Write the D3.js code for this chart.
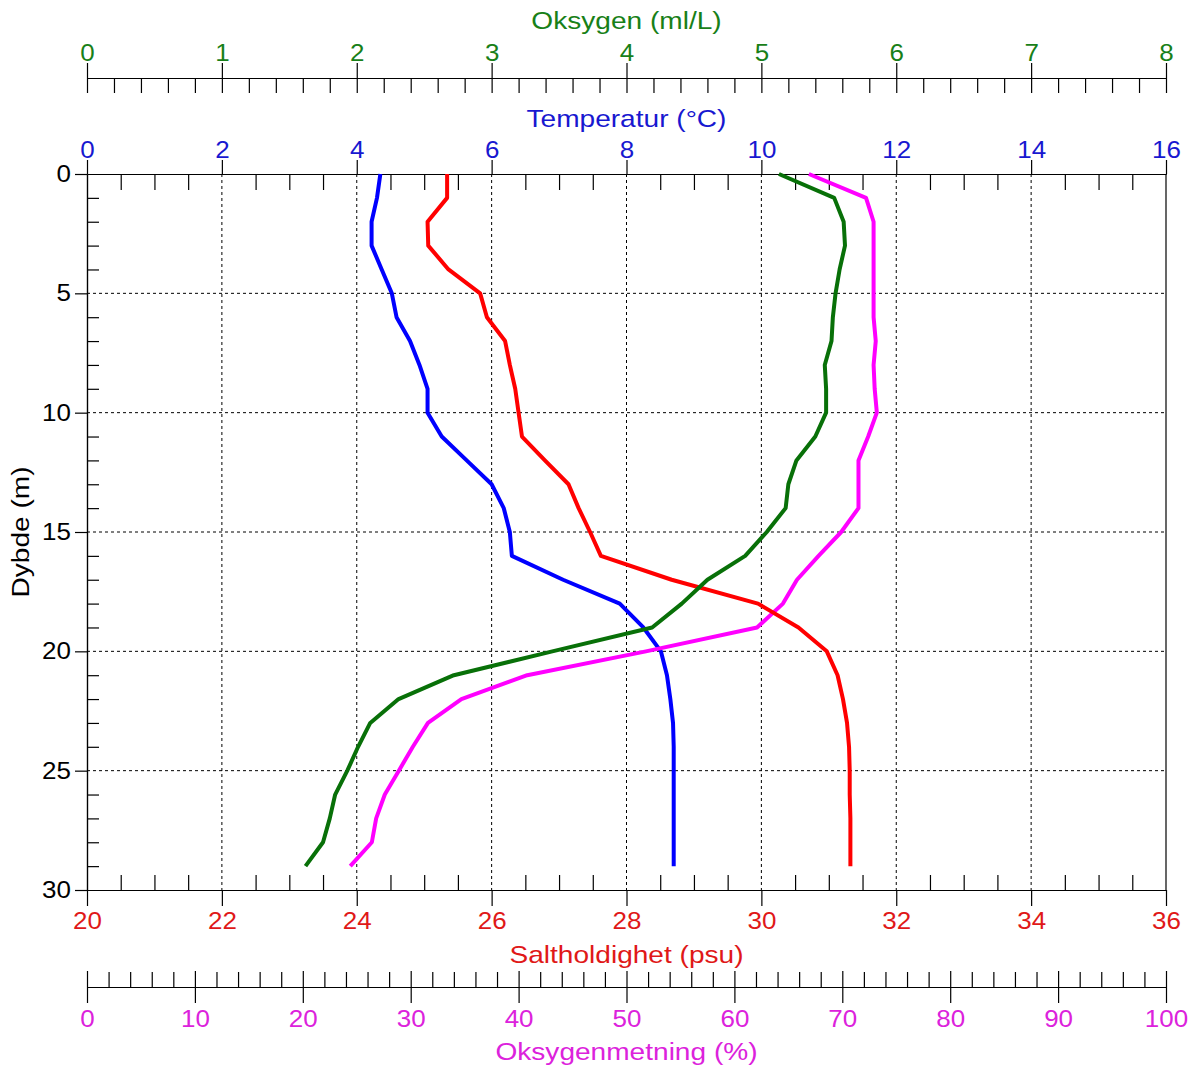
<!DOCTYPE html>
<html>
<head>
<meta charset="utf-8">
<script src="https://cdn.jsdelivr.net/npm/d3@7"></script>
<style>
  body { margin: 0; background: #fff; }
</style>
</head>
<body>
<div id="chart"></div>
<script>
// depth profile, one reading per metre
const depth = [0, 1, 2, 3, 4, 5, 6, 7, 8, 9, 10, 11, 12, 13, 14, 15, 16, 17, 18, 19, 20, 21, 22, 23, 24, 25, 26, 27, 28, 29];
const temperature = [4.35, 4.30, 4.22, 4.22, 4.37, 4.52, 4.59, 4.79, 4.93, 5.05, 5.05, 5.26, 5.63, 6.00, 6.18, 6.27, 6.30, 7.06, 7.90, 8.25, 8.51, 8.60, 8.65, 8.69, 8.70, 8.70, 8.70, 8.70, 8.70, 8.70];
const salinity = [25.34, 25.34, 25.05, 25.06, 25.36, 25.83, 25.93, 26.20, 26.27, 26.35, 26.40, 26.45, 26.79, 27.14, 27.29, 27.46, 27.62, 28.67, 29.95, 30.55, 30.97, 31.13, 31.21, 31.27, 31.30, 31.31, 31.31, 31.32, 31.32, 31.32];
const oxygen = [5.13, 5.54, 5.61, 5.62, 5.58, 5.55, 5.53, 5.52, 5.47, 5.48, 5.48, 5.40, 5.26, 5.20, 5.18, 5.04, 4.88, 4.60, 4.41, 4.19, 3.45, 2.72, 2.31, 2.10, 2.01, 1.93, 1.84, 1.80, 1.75, 1.62];
const saturation = [66.9, 72.2, 72.9, 72.9, 72.9, 72.9, 72.9, 73.1, 72.9, 73.0, 73.2, 72.4, 71.5, 71.5, 71.5, 69.9, 67.8, 65.8, 64.5, 62.1, 51.8, 40.8, 34.7, 31.6, 30.2, 28.9, 27.6, 26.8, 26.4, 24.4];

// tick labels
const tempTicks = [0, 2, 4, 6, 8, 10, 12, 14, 16];
const salTicks = [20, 22, 24, 26, 28, 30, 32, 34, 36];
const oxyTicks = [0, 1, 2, 3, 4, 5, 6, 7, 8];
const satTicks = [0, 10, 20, 30, 40, 50, 60, 70, 80, 90, 100];
const depthTicks = [0, 5, 10, 15, 20, 25, 30];

const width = 1197, height = 1072;
const margin = { top: 174, right: 31, bottom: 182, left: 87 };
const x0 = margin.left, x1 = width - margin.right;
const y0 = margin.top, y1 = height - margin.bottom;

const fontFam = '"Liberation Sans", Arial, sans-serif';
const colors = {
    temp: "#0000ff", tempText: "#1818d0",
    sal: "#ff0000", salText: "#e01818",
    oxy: "#087008", oxyText: "#188018",
    sat: "#ff00ff", satText: "#dc22dc"
};

var xT = d3.scaleLinear().domain([0, 16]).range([x0, x1]);
var xS = d3.scaleLinear().domain([20, 36]).range([x0, x1]);
var xO = d3.scaleLinear().domain([0, 8]).range([x0, x1]);
var xP = d3.scaleLinear().domain([0, 100]).range([x0, x1]);
var y = d3.scaleLinear().domain([0, 30]).range([y0, y1]);

var svg = d3.select("#chart").append("svg")
    .attr("width", width)
    .attr("height", height);

// minor positions between the labelled ticks
function minors(domain, step, skip) {
    return d3.range(domain[0], domain[1] + step / 2, step)
        .filter(v => skip.indexOf(+v.toFixed(4)) < 0);
}

function drawAxis(axis, transform, color) {
    var g = svg.append("g").attr("transform", transform).call(axis);
    g.select(".domain").attr("stroke", "#000").attr("stroke-width", 1.2);
    g.selectAll(".tick line").attr("stroke", "#000").attr("stroke-width", 1.2);
    g.selectAll(".tick text")
        .attr("fill", color)
        .attr("font-family", fontFam)
        .attr("font-size", 23)
        .attr("transform", "scale(1.13,1)");
    return g;
}

// grid
var grid = svg.append("g")
    .attr("stroke", "#000")
    .attr("stroke-width", 1)
    .attr("stroke-dasharray", "3,3");
grid.selectAll(".gx")
    .data(tempTicks.slice(1, -1))
    .enter().append("line")
    .attr("x1", d => xT(d)).attr("x2", d => xT(d))
    .attr("y1", y0).attr("y2", y1);
grid.selectAll(".gy")
    .data(depthTicks.slice(1, -1))
    .enter().append("line")
    .attr("x1", x0).attr("x2", x1)
    .attr("y1", d => y(d)).attr("y2", d => y(d));

// oxygen axis (top)
drawAxis(d3.axisBottom(xO).tickValues(minors([0, 8], 0.2, [])).tickSize(15).tickSizeOuter(0).tickFormat(""),
    "translate(0,78)", colors.oxyText);
drawAxis(d3.axisTop(xO).tickValues(oxyTicks).tickSize(15).tickPadding(2).tickSizeOuter(0).tickFormat(d3.format("d")),
    "translate(0,78)", colors.oxyText);

// temperature axis (plot top)
drawAxis(d3.axisBottom(xT).tickValues(minors([0, 16], 0.5, tempTicks)).tickSize(16).tickSizeOuter(0).tickFormat(""),
    `translate(0,${y0})`, colors.tempText);
drawAxis(d3.axisTop(xT).tickValues(tempTicks).tickSize(14).tickPadding(2).tickSizeOuter(0).tickFormat(d3.format("d")),
    `translate(0,${y0})`, colors.tempText);

// salinity axis (plot bottom)
drawAxis(d3.axisTop(xS).tickValues(minors([20, 36], 0.5, salTicks)).tickSize(15).tickSizeOuter(0).tickFormat(""),
    `translate(0,${y1})`, colors.salText);
drawAxis(d3.axisBottom(xS).tickValues(salTicks).tickSize(16).tickPadding(7).tickSizeOuter(0).tickFormat(d3.format("d")),
    `translate(0,${y1})`, colors.salText);

// oxygen saturation axis (bottom)
drawAxis(d3.axisTop(xP).tickValues(minors([0, 100], 2, satTicks)).tickSize(15).tickSizeOuter(0).tickFormat(""),
    "translate(0,987)", colors.satText);
drawAxis(d3.axisTop(xP).tickValues(satTicks).tickSize(16).tickSizeOuter(0).tickFormat(""),
    "translate(0,987)", colors.satText);
drawAxis(d3.axisBottom(xP).tickValues(satTicks).tickSize(16).tickPadding(8).tickSizeOuter(0).tickFormat(d3.format("d")),
    "translate(0,987)", colors.satText);

// depth axis (left)
drawAxis(d3.axisRight(y).tickValues(minors([0, 30], 1, depthTicks)).tickSize(12).tickSizeOuter(0).tickFormat(""),
    `translate(${x0},0)`, "#000");
var dAxis = drawAxis(d3.axisLeft(y).tickValues(depthTicks).tickSize(12).tickPadding(4).tickSizeOuter(0),
    `translate(${x0},0)`, "#000");
dAxis.selectAll(".tick text").attr("x", -16 / 1.13);

// right frame
svg.append("line")
    .attr("x1", x1).attr("x2", x1)
    .attr("y1", y0).attr("y2", y1)
    .attr("stroke", "#000").attr("stroke-width", 1.2);

// profiles
var profiles = [
    { values: temperature, scale: xT, color: colors.temp },
    { values: saturation, scale: xP, color: colors.sat },
    { values: salinity, scale: xS, color: colors.sal },
    { values: oxygen, scale: xO, color: colors.oxy }
];

profiles.forEach(function (p) {
    var line = d3.line()
        .x((d, i) => p.scale(p.values[i]))
        .y(d => y(d));
    svg.append("path")
        .datum(depth)
        .attr("d", line)
        .attr("fill", "none")
        .attr("stroke", p.color)
        .attr("stroke-width", 4)
        .attr("stroke-linejoin", "round");
});

// axis titles
var cx = (x0 + x1) / 2;
var titles = [
    { text: "Oksygen (ml/L)", y: 29, color: colors.oxyText },
    { text: "Temperatur (°C)", y: 127, color: colors.tempText },
    { text: "Saltholdighet (psu)", y: 963, color: colors.salText },
    { text: "Oksygenmetning (%)", y: 1060, color: colors.satText }
];
titles.forEach(function (t) {
    svg.append("text")
        .attr("transform", `translate(${cx},${t.y}) scale(1.17,1)`)
        .attr("text-anchor", "middle")
        .attr("font-family", fontFam)
        .attr("font-size", 24)
        .attr("fill", t.color)
        .text(t.text);
});

svg.append("text")
    .attr("transform", `translate(29,${(y0 + y1) / 2}) rotate(-90) scale(1.17,1)`)
    .attr("text-anchor", "middle")
    .attr("font-family", fontFam)
    .attr("font-size", 24)
    .attr("fill", "#000")
    .text("Dybde (m)");
</script>
</body>
</html>
